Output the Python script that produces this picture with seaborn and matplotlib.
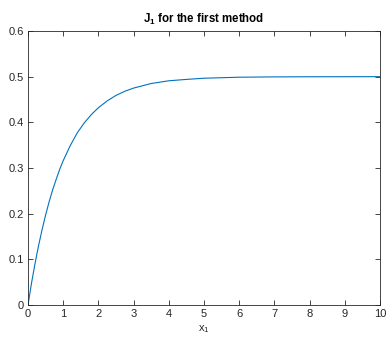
import matplotlib
matplotlib.use("Agg")
import matplotlib.pyplot as plt
import seaborn as sns
import pandas as pd

x_vals = [0, 0.1, 0.2, 0.3, 0.4, 0.5, 0.6, 0.7, 0.8, 0.9, 1.0, 1.2, 1.4, 1.6, 1.8,
          2.0, 2.25, 2.5, 2.75, 3.0, 3.5, 4, 4.5, 5, 6, 7, 8, 9, 10]
j1_vals = [0, 0.048, 0.091, 0.13, 0.165, 0.197, 0.226, 0.252, 0.275, 0.297, 0.316,
           0.349, 0.377, 0.399, 0.417, 0.432, 0.447, 0.459, 0.468, 0.475, 0.485,
           0.491, 0.494, 0.4966, 0.4988, 0.4995, 0.4998, 0.4999, 0.5]
x_ticks = [0, 1, 2, 3, 4, 5, 6, 7, 8, 9, 10]
y_ticks = [0, 0.1, 0.2, 0.3, 0.4, 0.5, 0.6]
y_tick_labels = ["0", "0.1", "0.2", "0.3", "0.4", "0.5", "0.6"]

sns.set_theme(style="white")
plt.rcParams['font.family'] = ['Liberation Sans', 'DejaVu Sans']
plt.rcParams['mathtext.fontset'] = 'custom'
plt.rcParams['mathtext.rm'] = 'Liberation Sans'
plt.rcParams['mathtext.it'] = 'Liberation Sans'
plt.rcParams['mathtext.bf'] = 'Liberation Sans:bold'

df = pd.DataFrame({"x": x_vals, "J1": j1_vals})

fig = plt.figure(figsize=(3.87, 3.45), dpi=100)
ax = fig.add_axes([28/387, 40/345, 352/387, 274/345])
sns.lineplot(data=df, x="x", y="J1", ax=ax, color="#0072BD", linewidth=0.8)

ax.set_xlim(0, 10)
ax.set_ylim(0, 0.6)
ax.set_xticks(x_ticks)
ax.set_xticklabels([str(t) for t in x_ticks])
ax.set_yticks(y_ticks)
ax.set_yticklabels(y_tick_labels)

axis_col = "#262626"
for s in ax.spines.values():
    s.set_visible(True)
    s.set_color(axis_col)
    s.set_linewidth(0.6)
ax.tick_params(direction="in", length=3.5, width=0.6, colors=axis_col,
               top=True, right=True, bottom=True, left=True,
               labelsize=8, pad=3)
for lab in ax.get_xticklabels() + ax.get_yticklabels():
    lab.set_color(axis_col)

ax.set_xlabel(r"x$_{\mathrm{1}}$", fontsize=8, color=axis_col, labelpad=3)
ax.set_ylabel("")
ax.set_title(r"$\mathbf{J_1}$ for the first method", fontsize=8.3,
             fontweight="bold", color="black", pad=6)

fig.savefig("out.png", dpi=100)
